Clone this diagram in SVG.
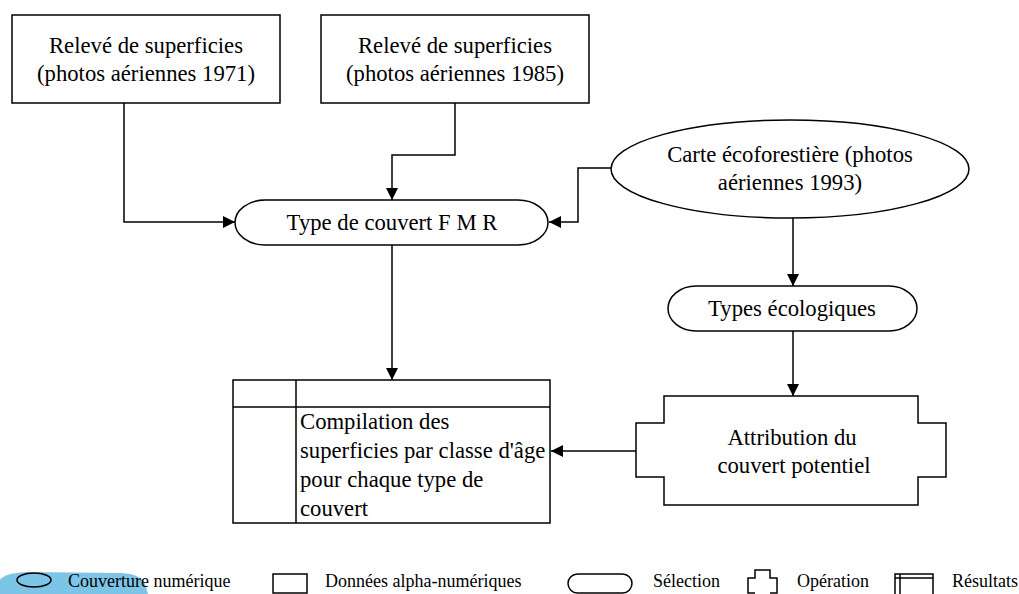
<svg xmlns="http://www.w3.org/2000/svg" width="1019" height="594" viewBox="0 0 1019 594">
<style>
.s{fill:#fff;stroke:#000;stroke-width:1.5}
.n{fill:none;stroke:#000;stroke-width:1.5}
.t{font-family:"Liberation Serif","Times New Roman",serif;font-size:22.7px;fill:#000}
.c{text-anchor:middle}
.l{font-family:"Liberation Serif","Times New Roman",serif;font-size:18px;fill:#000}
</style>
<defs>
<marker id="a" viewBox="0 0 12 12" refX="12" refY="6" markerWidth="12" markerHeight="12" markerUnits="userSpaceOnUse" orient="auto">
<path d="M0,0 L12,6 L0,12 Z" fill="#000"/>
</marker>
</defs>
<rect width="1019" height="594" fill="#fff"/>
<g id="connectors" class="n">
<path class="n" d="M124,103 V222 H235" marker-end="url(#a)"/>
<path class="n" d="M455,103 V155 H392 V200" marker-end="url(#a)"/>
<path class="n" d="M611,168 H578 V222 H549" marker-end="url(#a)"/>
<path class="n" d="M392,245 V380" marker-end="url(#a)"/>
<path class="n" d="M793,218 V286" marker-end="url(#a)"/>
<path class="n" d="M793,331 V396" marker-end="url(#a)"/>
<path class="n" d="M636,451 H551" marker-end="url(#a)"/>
</g>
<g id="releve1971">
<rect class="s" x="12" y="15" width="268" height="88"/>
<text class="t c" x="146" y="53">Relevé de superficies</text>
<text class="t c" x="146" y="81">(photos aériennes 1971)</text>
</g>
<g id="releve1985">
<rect class="s" x="321" y="15" width="268" height="88"/>
<text class="t c" x="455" y="53">Relevé de superficies</text>
<text class="t c" x="455" y="81">(photos aériennes 1985)</text>
</g>
<g id="carte">
<ellipse class="s" cx="790" cy="169" rx="179" ry="49"/>
<text class="t c" x="790" y="162">Carte écoforestière (photos</text>
<text class="t c" x="790" y="190">aériennes 1993)</text>
</g>
<g id="typecouvert">
<rect class="s" x="235" y="200" width="313" height="45" rx="30" ry="22.5"/>
<text class="t c" x="392" y="230">Type de couvert F M R</text>
</g>
<g id="typeseco">
<rect class="s" x="668" y="286" width="249" height="45" rx="28" ry="22.5"/>
<text class="t c" x="792" y="316">Types écologiques</text>
</g>
<g id="attribution">
<path class="s" d="M664,396 H918 V423 H946 V477 H918 V505 H664 V477 H636 V423 H664 Z"/>
<text class="t c" x="792" y="445">Attribution du</text>
<text class="t c" x="794" y="473">couvert potentiel</text>
</g>
<g id="compilation">
<rect class="s" x="233" y="380" width="317" height="143"/>
<path class="n" d="M296,380 V523 M233,407 H550"/>
<text class="t" x="300" y="429">Compilation des</text>
<text class="t" x="300" y="458">superficies par classe d'âge</text>
<text class="t" x="300" y="487">pour chaque type de</text>
<text class="t" x="300" y="516">couvert</text>
</g>
<g id="legend">
<path d="M0,580 Q4,573 28,572 L122,573 Q140,574 145,584 L148,594 L0,594 Z" fill="#7cc5e6"/>
<ellipse class="n" cx="34" cy="580" rx="17" ry="7"/>
<text class="l" x="68" y="587">Couverture numérique</text>
<rect class="n" x="273" y="574" width="34" height="19"/>
<text class="l" x="325" y="587">Données alpha-numériques</text>
<rect class="n" x="568" y="574" width="64" height="19" rx="9.5"/>
<text class="l" x="653" y="587">Sélection</text>
<path class="n" d="M755,593 H748 V578 H755 V570 H770 V578 H777 V593 H770"/>
<text class="l" x="797" y="587">Opération</text>
<path class="n" d="M895,594 V574 H933 V594 M895,578 H933 M900,574 V594"/>
<text class="l" x="952" y="587">Résultats</text>
</g>
</svg>
